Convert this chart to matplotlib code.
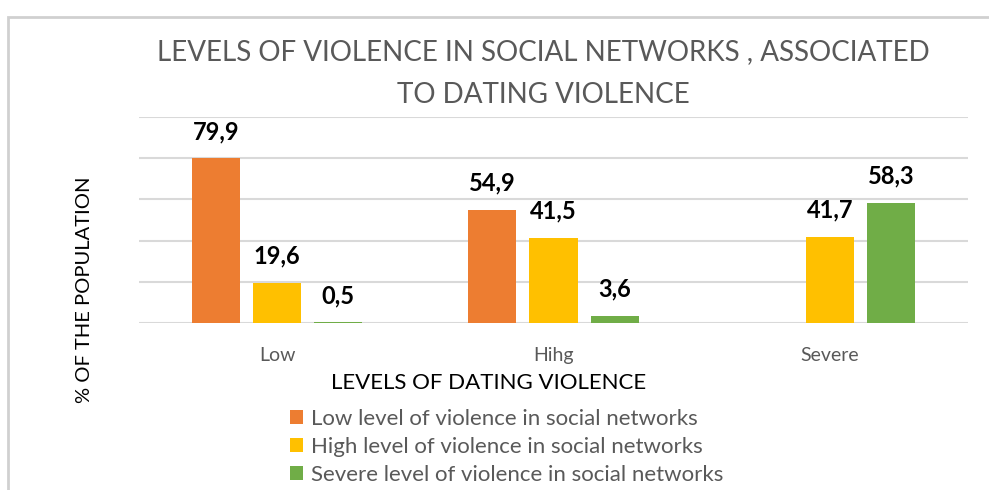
import numpy as np
import matplotlib.pyplot as plt
from matplotlib.patches import Rectangle

plt.rcParams["font.family"] = ["Lato", "DejaVu Sans"]

categories = ["Low", "Hihg", "Severe"]
series_names = [
    "Low level of violence in social networks",
    "High level of violence in social networks",
    "Severe level of violence in social networks",
]
low_net = [79.9, 54.9, np.nan]
high_net = [19.6, 41.5, 41.7]
severe_net = [0.5, 3.6, 58.3]
colors = ["#ED7D31", "#FFC000", "#70AD47"]

W, H = 989, 490
fig = plt.figure(figsize=(W / 100, H / 100), dpi=100)

# chart area border (cut off at right and bottom)
fig.patches.append(Rectangle((8 / W, -0.1), 1.1, (H - 17) / H + 0.1,
                             transform=fig.transFigure, fill=False,
                             edgecolor="#d0d0d0", linewidth=2))

ax = fig.add_axes([139 / W, (H - 323.3) / H, (968 - 139) / W, 206.6 / H])

x = np.arange(len(categories))
bw = 0.174
step = 0.221
for i, (vals, c, name) in enumerate(zip([low_net, high_net, severe_net], colors, series_names)):
    pos = x + (i - 1) * step
    ax.bar(pos, vals, width=bw, color=c, label=name, zorder=3)
    for p, v in zip(pos, vals):
        if np.isnan(v):
            continue
        ax.annotate(f"{v:.1f}".replace(".", ","), (p, v), xytext=(0, 11),
                    textcoords="offset points", ha="center", va="bottom",
                    fontsize=17, fontweight="bold", color="black")

ax.set_ylim(0, 100)
ax.set_xlim(-0.5, 2.5)
ax.set_yticks(np.arange(0, 101, 20))
ax.yaxis.grid(True, color="#d9d9d9", linewidth=1.5, zorder=0)
ax.tick_params(axis="y", length=0, labelleft=False)
ax.set_xticks(x)
ax.set_xticklabels(categories, fontsize=14, color="#595959")
ax.tick_params(axis="x", length=0, pad=17)
for s in ax.spines.values():
    s.set_visible(False)

fig.text(543 / W, 1 - 52 / H, "LEVELS OF VIOLENCE IN SOCIAL NETWORKS , ASSOCIATED",
         ha="center", va="center", fontsize=20, color="#595959")
fig.text(543 / W, 1 - 95 / H, "TO DATING VIOLENCE",
         ha="center", va="center", fontsize=20, color="#595959")

fig.text(84 / W, 1 - 290 / H, "% OF THE POPULATION", rotation=90,
         ha="center", va="center", fontsize=14.5, color="black")
fig.text(489 / W, 1 - 383 / H, "LEVELS OF DATING VIOLENCE",
         ha="center", va="center", fontsize=16, color="black")

fig.legend(loc="upper left", bbox_to_anchor=(290 / W, 1 - 409 / H), frameon=False,
           fontsize=16, labelcolor="#595959", handlelength=0.6, handleheight=0.6,
           handletextpad=0.35, labelspacing=0.35, borderaxespad=0, borderpad=0)

fig.savefig("out.png", dpi=100)
